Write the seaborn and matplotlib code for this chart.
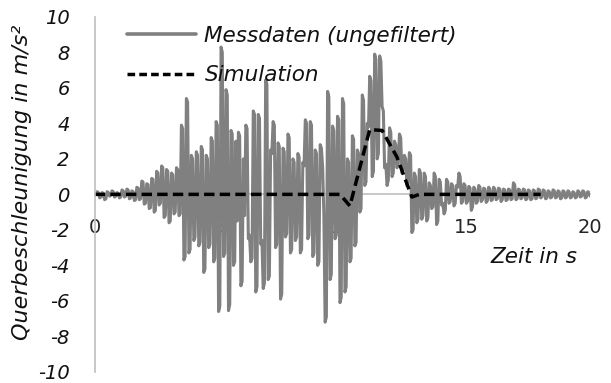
import numpy as np
import pandas as pd
import matplotlib
matplotlib.use("Agg")
import matplotlib.pyplot as plt
from matplotlib.lines import Line2D
import seaborn as sns

# Abtastschritt der Messung in s
abtastschritt = 0.05

# Querbeschleunigung, Messdaten (ungefiltert), eine Zeile je Sekunde
mess_werte = [
    0.0, 0.05, 0.15, 0.1, -0.2, -0.15, 0.1, 0.05, -0.3, -0.25, 0.15, 0.1, -0.1, -0.05, 0.2, 0.15, -0.15, -0.1, 0.1, 0.05,
    -0.2, -0.15, 0.25, 0.2, -0.15, -0.1, 0.3, 0.25, -0.25, -0.2, 0.2, 0.15, -0.35, -0.3, 0.4, 0.35, -0.3, -0.25, 0.75, 0.7,
    -0.55, -0.5, 0.6, 0.55, -0.8, -0.75, 0.9, 0.85, -1.0, -0.9, 1.3, 1.2, -0.6, -0.5, 1.6, 1.5, -1.3, -1.2, 1.4, 1.3,
    -1.6, -1.5, 1.2, 1.1, -1.1, -1.0, 1.5, 1.4, -1.2, -1.1, 3.9, 3.7, -3.7, -3.5, 5.4, 5.2, -3.3, -3.1, 2.2, 2.0,
    -2.6, -2.4, 2.4, 2.2, -2.9, -2.7, 2.7, 2.5, -4.4, -4.2, 2.2, 2.0, -3.0, -2.8, 3.2, 3.0, -3.8, -3.6, 4.1, 3.9,
    -6.6, -6.3, 8.3, 8.0, -3.5, -3.3, 5.9, 5.6, -6.55, -6.2, 3.6, 3.4, -4.0, -3.8, 3.0, -1.5, 3.5, 3.3, -5.15, -4.9,
    2.0, -1.2, 3.9, 3.7, -2.5, -2.3, -3.8, -3.6, 4.7, 4.5, -5.5, -5.2, 4.5, 4.3, -2.8, -2.6, -5.3, -5.0, 6.45, 6.2,
    -4.8, -4.6, 2.5, 2.3, 4.1, 3.9, -3.0, -2.8, 2.9, 2.7, -5.9, -5.6, 2.6, 2.4, -2.4, -2.2, 3.4, 3.2, -3.3, -3.1,
    2.0, 1.8, -2.6, -2.4, 2.3, 2.1, -3.3, -3.1, 1.8, 1.6, 4.2, 4.0, -2.5, -2.3, 4.1, 3.9, -3.5, -3.3, 2.5, 2.3,
    -4.0, -3.8, 2.8, 2.6, 1.5, -1.2, -7.2, -6.9, 5.8, 5.5, -4.8, -4.5, 3.85, 3.6, -2.5, -2.3, 4.4, 4.2, -6.1, -5.8,
    5.4, 5.1, -5.5, -5.2, 2.0, 1.8, -3.8, -3.6, 3.3, 3.1, -2.9, -2.7, 2.5, 2.3, -1.0, -0.8, 5.6, 5.3, 0.5, 0.7,
    4.0, 3.8, 6.65, 6.4, 1.0, 1.3, 7.9, 7.6, 2.0, 2.3, 7.8, 7.5, 4.95, 4.7, 1.5, 1.7, 0.5, 0.8, 3.75, 3.5,
    1.0, 1.2, 3.0, 2.8, 1.5, 1.7, 3.4, 3.2, 1.2, 1.4, 2.2, 2.0, 0.5, 0.7, 2.35, 2.2, -2.15, -2.0, 1.2, 1.0,
    -1.6, -1.4, 1.4, 1.2, -1.4, -1.2, 1.2, 1.0, -1.5, -1.3, 0.65, 0.5, -0.8, -0.7, 1.2, 1.0, -1.7, -1.5, 0.85, 0.7,
    -0.6, -0.5, -1.1, -0.9, 0.85, 0.7, -0.5, -0.4, 0.6, 0.5, -0.65, -0.5, 0.5, 0.4, 1.2, 1.0, -0.5, -0.4, 0.6, 0.5,
    -0.5, -0.4, 0.45, 0.35, -0.9, -0.7, 0.4, 0.3, -0.5, -0.4, 0.5, 0.4, -0.4, -0.3, 0.35, 0.3, -0.45, -0.35, 0.4, 0.3,
    -0.35, -0.3, 0.4, 0.3, -0.3, -0.25, 0.35, 0.3, -0.4, -0.3, 0.3, 0.25, -0.35, -0.3, 0.3, 0.25, -0.3, -0.25, 0.65, 0.55,
    -0.3, -0.25, 0.3, 0.25, -0.25, -0.2, 0.3, 0.25, -0.3, -0.25, 0.25, 0.2, -0.3, -0.25, 0.25, 0.2, -0.25, -0.2, 0.3, 0.25,
    -0.2, -0.15, 0.25, 0.2, -0.25, -0.2, 0.2, 0.15, -0.2, -0.15, 0.25, 0.2, -0.2, -0.15, 0.2, 0.15, -0.25, -0.2, 0.2, 0.15,
    -0.2, -0.15, 0.2, 0.15, -0.2, -0.15, 0.15, 0.1, -0.2, -0.15, 0.2, 0.15, -0.15, -0.1, 0.2, 0.15, -0.2, -0.15, 0.15, 0.1,
    -0.1,
]
mess_zeit = [round(i * abtastschritt, 3) for i in range(len(mess_werte))]

# Simulation (Stützpunkte)
sim_zeit = [0.0, 9.9, 10.3, 11.1, 11.6, 12.2, 12.8, 13.1, 18.0]
sim_werte = [0.0, 0.0, -0.65, 3.65, 3.6, 2.1, -0.15, 0.0, 0.0]

x_ticks = [0, 5, 10, 15, 20]
y_ticks = list(range(-10, 11, 2))

legende = ["Messdaten (ungefiltert)", "Simulation"]
x_titel = "Zeit in s"
y_titel = "Querbeschleunigung in m/s²"

mess_df = pd.DataFrame({"t": mess_zeit, "a": mess_werte})
sim_df = pd.DataFrame({"t": sim_zeit, "a": sim_werte})

sns.set_theme(style="white")
plt.rcParams["font.family"] = ["DejaVu Sans"]
fs_ticks = 14
fs_text = 15.5
textfarbe = "#111111"

fig = plt.figure(figsize=(6.11, 3.83), dpi=100)
ax = fig.add_axes([0.155, 0.029, 0.811, 0.927])

grau = "#808080"
sns.lineplot(data=mess_df, x="t", y="a", ax=ax, color=grau, lw=2.2,
             estimator=None, sort=False)
sns.lineplot(data=sim_df, x="t", y="a", ax=ax, color="black", lw=2.5,
             estimator=None, sort=False)
ax.lines[-1].set_dashes((3.0, 1.5))

ax.set_xlim(0, 20)
ax.set_ylim(-10, 10)
ax.set_xticks(x_ticks)
ax.set_yticks(y_ticks)
ax.set_xticklabels([str(v) for v in x_ticks])
ax.set_yticklabels([str(v) for v in y_ticks])
ax.tick_params(axis="both", length=0, labelsize=fs_ticks)
ax.tick_params(axis="x", pad=17)
ax.tick_params(axis="y", pad=18)
for lbl in ax.get_xticklabels() + ax.get_yticklabels():
    lbl.set_fontstyle("italic")
    lbl.set_color(textfarbe)

for s in ["top", "right"]:
    ax.spines[s].set_visible(False)
ax.spines["left"].set_color("#bfbfbf")
ax.spines["left"].set_linewidth(1.2)
ax.spines["bottom"].set_position(("data", 0))
ax.spines["bottom"].set_color("#bfbfbf")
ax.spines["bottom"].set_linewidth(1.2)
ax.spines["bottom"].set_zorder(0.5)
ax.grid(False)

ax.set_xlabel(x_titel, fontsize=fs_text, fontstyle="italic", color=textfarbe)
ax.xaxis.set_label_coords(0.887, 0.352)
ax.set_ylabel(y_titel, fontsize=16, fontstyle="italic", color=textfarbe)
ax.yaxis.set_label_coords(-0.127, 0.535)

handles = [
    Line2D([], [], color=grau, lw=2.6),
    Line2D([], [], color="black", lw=2.5, dashes=(2.2, 1.2)),
]
ax.legend(handles, legende, loc="upper left", bbox_to_anchor=(0.065, 0.975),
          frameon=False, borderpad=0, borderaxespad=0, handlelength=3.2,
          handletextpad=0.4, labelspacing=0.9,
          prop={"size": fs_text, "style": "italic"})
for t in ax.get_legend().get_texts():
    t.set_color(textfarbe)

fig.savefig("out.png", dpi=100)
